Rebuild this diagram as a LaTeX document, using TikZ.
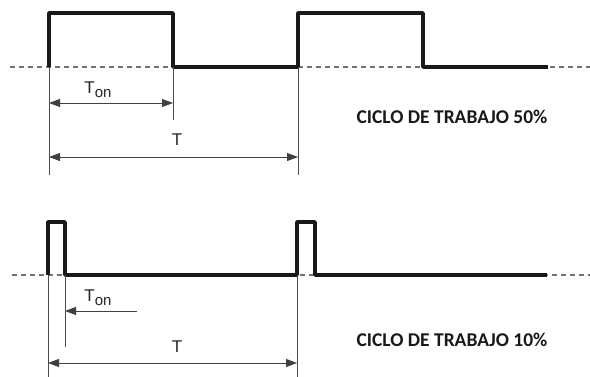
\documentclass[tikz,border=0pt]{standalone}
\usepackage{fontspec}
\setmainfont{Liberation Sans}
\newfontfamily\labfont{Carlito}
\usetikzlibrary{arrows.meta}
\begin{document}
\begin{tikzpicture}[x=1pt,y=-1pt,
  wave/.style={line width=3.6pt,color=black!90,line join=round,line cap=butt},
  base/.style={line width=1.4pt,color=black!55,dash pattern=on 5pt off 4pt},
  guide/.style={line width=0.8pt,color=black!70},
  dim/.style={line width=0.8pt,color=black!75,{Triangle[length=11pt,width=8pt]}-{Triangle[length=11pt,width=8pt]}},
  dimone/.style={line width=0.8pt,color=black!75,-{Triangle[length=11pt,width=8pt]}},
  tlab/.style={font=\fontsize{17}{17}\selectfont,inner sep=0pt,text=black!85},
  captext/.style={font=\labfont\bfseries\fontsize{19.5}{19.5}\selectfont,inner sep=0pt,text=black!90}]
\useasboundingbox (0,0) rectangle (590,377);
\fill[white] (0,0) rectangle (590,377);
% ---------- top: 50% ----------
\coordinate (a0) at (10,67);   \coordinate (a9) at (590,67);
\coordinate (a1) at (49,67);   \coordinate (a1h) at (49,13);
\coordinate (a2h) at (173,13); \coordinate (a2) at (173,67);
\coordinate (a3) at (298,67);  \coordinate (a3h) at (298,13);
\coordinate (a4h) at (423,13); \coordinate (a4) at (423,67);
\coordinate (a5) at (548,67);
\coordinate (g1) at (49,175);  \coordinate (g2) at (173,120); \coordinate (g3) at (298,175);
\coordinate (ton1l) at (49,103); \coordinate (ton1r) at (173,103);
\coordinate (t1l) at (49,157);   \coordinate (t1r) at (298,157);
\draw[base] (a0) -- (a9);
\draw[wave] (a1) -- (a1h) -- (a2h) -- (a2) -- (a3) -- (a3h) -- (a4h) -- (a4) -- (a5);
\draw[guide] (a1) -- (g1);
\draw[guide] (a2) -- (g2);
\draw[guide] (a3) -- (g3);
\draw[dim] (ton1l) -- (ton1r);
\draw[dim] (t1l) -- (t1r);
\node[tlab] (lton1) at (98,90) {T\raisebox{-4pt}{\fontsize{15}{15}\selectfont on}};
\node[tlab] (lt1) at (177,140) {T};
\node[captext] (c1) at (452,117) {CICLO DE TRABAJO 50\%};
% ---------- bottom: 10% ----------
\coordinate (b0) at (12,275);  \coordinate (b9) at (590,275);
\coordinate (b1) at (48,275);  \coordinate (b1h) at (48,222);
\coordinate (b2h) at (65,222); \coordinate (b2) at (65,275);
\coordinate (b3) at (297,275); \coordinate (b3h) at (297,222);
\coordinate (b4h) at (315,222);\coordinate (b4) at (315,275);
\coordinate (b5) at (547,275);
\coordinate (h1) at (48,377);  \coordinate (h2) at (65,347); \coordinate (h3) at (297,377);
\coordinate (ton2s) at (137,311); \coordinate (ton2e) at (65,311);
\coordinate (t2l) at (48,363);    \coordinate (t2r) at (297,363);
\draw[base] (b0) -- (b9);
\draw[wave] (b1) -- (b1h) -- (b2h) -- (b2) -- (b3) -- (b3h) -- (b4h) -- (b4) -- (b5);
\draw[guide] (b1) -- (h1);
\draw[guide] (b2) -- (h2);
\draw[guide] (b3) -- (h3);
\draw[dimone] (ton2s) -- (ton2e);
\draw[dim] (t2l) -- (t2r);
\node[tlab] (lton2) at (98,298) {T\raisebox{-4pt}{\fontsize{15}{15}\selectfont on}};
\node[tlab] (lt2) at (177,347) {T};
\node[captext] (c2) at (452,340) {CICLO DE TRABAJO 10\%};
\end{tikzpicture}
\end{document}
